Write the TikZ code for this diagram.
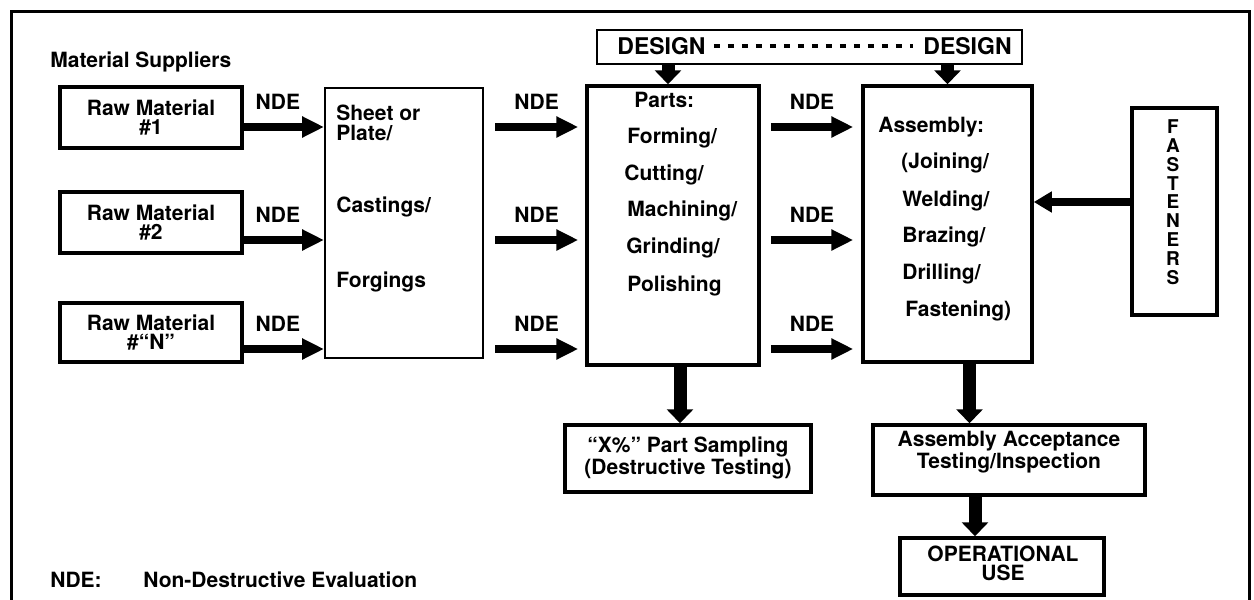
\documentclass[tikz,border=0pt]{standalone}
\usepackage{fontspec}
\setmainfont{TeX Gyre Heros}
\usetikzlibrary{positioning,calc,arrows.meta}

\tikzset{
  box/.style={draw, line width=1.75pt, inner sep=0pt, align=center},
  thinbox/.style={draw, line width=1pt, inner sep=0pt},
  word/.style={anchor=west, inner sep=0pt},
  ndearrow/.style={line width=4pt, -{Triangle[length=11pt,width=10pt]}},
  downarrow/.style={line width=6.5pt, -{Triangle[length=7pt,width=13pt]}},
  ndelabel/.style={midway, above=7pt, inner sep=0pt},
}

\begin{document}
\begin{tikzpicture}[x=0.5pt,y=-0.5pt,every node/.style={font=\bfseries\fontsize{10.5}{9.5}\selectfont}]
\useasboundingbox (0,0) rectangle (1254,600);
% frame
\draw[line width=1.5pt] (11,600) -- (11,11) -- (1249,11) -- (1249,600);

% arrow rows
\coordinate (r1) at (0,127);
\coordinate (r2) at (0,240);
\coordinate (r3) at (0,349);

% suppliers
\node[word] (supp) at (50,62) {Material Suppliers};
\node[box, minimum width=91pt, minimum height=30.5pt] (raw1) at (151,117.5) {Raw Material\\\#1};
\node[box, minimum width=91pt, minimum height=30.5pt] (raw2) at (151,222.5) {Raw Material\\\#2};
\node[box, minimum width=91pt, minimum height=29.5pt] (rawN) at (151,332.5) {Raw Material\\\#“N”};

% stock
\node[thinbox, minimum width=79pt, minimum height=135pt] (sheet) at (404,223) {};
\node[word, align=left] (sheettxt) at (336,123) {Sheet or\\[0.5pt]Plate/};
\node[word] (cast) at (336,207) {Castings/};
\node[word] (forg) at (336,282) {Forgings};

% parts
\node[box, minimum width=86pt, minimum height=139.5pt] (parts) at (673,225.5) {};
\node[word] (partstxt) at (634,100) {Parts:};
\node[word] (form) at (627,138) {Forming/};
\node[word] (cut) at (624,175) {Cutting/};
\node[word] (mach) at (627,211) {Machining/};
\node[word] (grind) at (626,248) {Grinding/};
\node[word] (pol) at (627,286) {Polishing};

% design
\node[draw, line width=1.25pt, minimum width=212.5pt, minimum height=17pt] (design) at (809.5,47) {};
\node[word, font=\bfseries\fontsize{11.5}{11}\selectfont] (designl) at (617,46) {DESIGN};
\node[anchor=east, inner sep=0pt, font=\bfseries\fontsize{11.5}{11}\selectfont] (designr) at (1012,46) {DESIGN};
\draw[line width=1.6pt, dash pattern=on 3pt off 4pt] ([xshift=4pt]designl.east) -- ([xshift=-5pt]designr.west);

% assembly
\node[box, minimum width=84.5pt, minimum height=138pt] (assembly) at (947.5,224) {};
\node[word] (asstxt) at (878,127) {Assembly:};
\node[word] (join) at (901,163) {(Joining/};
\node[word] (weld) at (902,201) {Welding/};
\node[word] (braz) at (902,237) {Brazing/};
\node[word] (drill) at (902,274) {Drilling/};
\node[word] (fast) at (905,311) {Fastening)};

% fasteners
\node[box, minimum width=42.5pt, minimum height=103.5pt] (fasteners) at (1174.5,211.5) {};
\node[inner sep=0pt, align=center, font=\bfseries\fontsize{9.5}{9.4}\selectfont] (fastxt) at (1173,202) {F\\A\\S\\T\\E\\N\\E\\R\\S};

% results
\node[box, minimum width=123pt, minimum height=33.5pt] (xpct) at (688,458.5) {};
\node[anchor=north, inner sep=0pt, align=center] (xpcttxt) at (688,436) {“X\%” Part Sampling\\(Destructive Testing)};
\node[box, minimum width=136pt, minimum height=35pt] (accept) at (1009,460) {};
\node[anchor=north, inner sep=0pt, align=center] (accepttxt) at (1009,431) {Assembly Acceptance\\Testing/Inspection};
\node[box, minimum width=102pt, minimum height=28.5pt] (opuse) at (1002,566.5) {};
\node[anchor=north, inner sep=0pt, align=center] (opusetxt) at (1003,546) {OPERATIONAL\\USE};

% legend
\node[word] (legnde) at (50,580) {NDE:};
\node[word] (legtxt) at (143,580) {Non-Destructive Evaluation};

% NDE arrows
\draw[ndearrow] (raw1.east |- r1) -- (sheet.west |- r1) node[ndelabel, xshift=-3pt] {NDE};
\draw[ndearrow] (raw2.east |- r2) -- (sheet.west |- r2) node[ndelabel, xshift=-3pt] {NDE};
\draw[ndearrow] (rawN.east |- r3) -- (sheet.west |- r3) node[ndelabel, xshift=-3pt] {NDE};
\draw[ndearrow] ([xshift=5.5pt]sheet.east |- r1) -- ([xshift=-3.5pt]parts.west |- r1) node[ndelabel] {NDE};
\draw[ndearrow] ([xshift=5.5pt]sheet.east |- r2) -- ([xshift=-3.5pt]parts.west |- r2) node[ndelabel] {NDE};
\draw[ndearrow] ([xshift=5.5pt]sheet.east |- r3) -- ([xshift=-3.5pt]parts.west |- r3) node[ndelabel] {NDE};
\draw[ndearrow] ([xshift=5pt]parts.east |- r1) -- ([xshift=-4pt]assembly.west |- r1) node[ndelabel] {NDE};
\draw[ndearrow] ([xshift=5pt]parts.east |- r2) -- ([xshift=-4pt]assembly.west |- r2) node[ndelabel] {NDE};
\draw[ndearrow] ([xshift=5pt]parts.east |- r3) -- ([xshift=-4pt]assembly.west |- r3) node[ndelabel] {NDE};

% down arrows
\draw[downarrow] ([xshift=-2.5pt]design.south -| parts.north) -- ([xshift=-2.5pt]parts.north);
\draw[downarrow] (design.south -| assembly.north) -- (assembly.north);
\draw[downarrow] ([xshift=3.5pt]parts.south) -- ([xshift=3.5pt]parts.south |- xpct.north);
\draw[downarrow] ([xshift=11pt]assembly.south) -- ([xshift=11pt]assembly.south |- accept.north);
\draw[downarrow] ([xshift=-17pt]accept.south) -- ([xshift=-17pt]accept.south |- opuse.north);
\draw[line width=4pt, -{Triangle[length=9pt,width=10pt]}] (fasteners.west |- 0,202) -- (assembly.east |- 0,202);
\end{tikzpicture}
\end{document}
